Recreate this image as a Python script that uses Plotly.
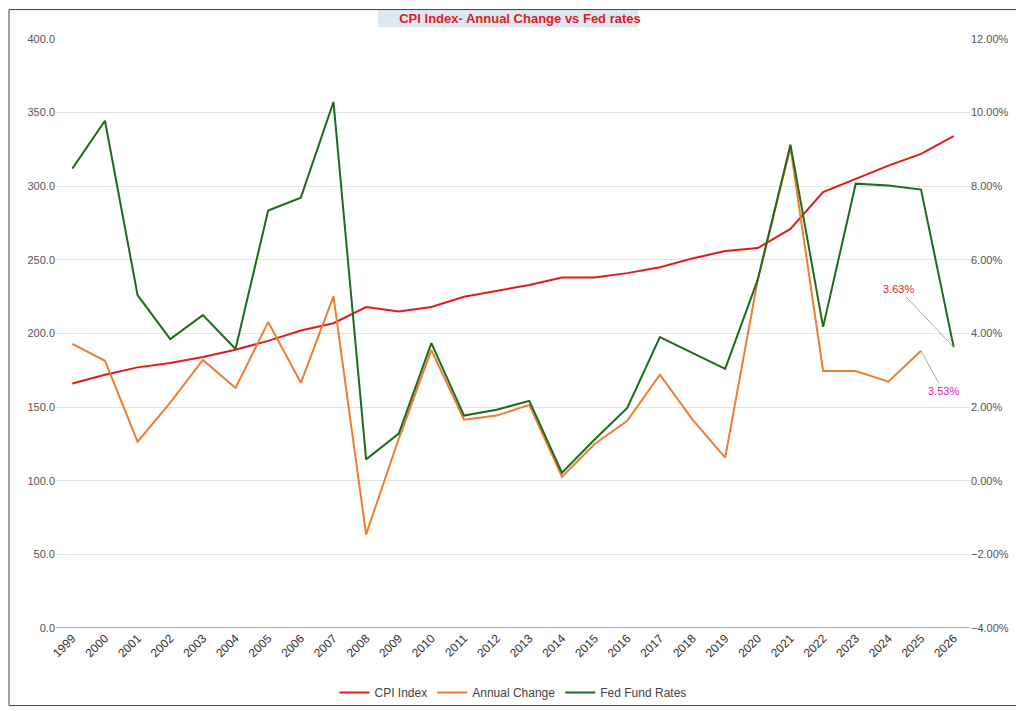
import plotly.graph_objects as go

years = list(range(1999, 2027))
cpi = [166, 172, 177, 180, 184, 189, 195, 202, 207, 218, 215, 218, 225, 229, 233, 238, 238, 241, 245, 251, 256, 258, 271, 296, 305, 314, 322, 334]
annual = [3.72, 3.26, 1.06, 2.12, 3.28, 2.52, 4.31, 2.66, 5.01, -1.46, 1.14, 3.55, 1.66, 1.77, 2.06, 0.11, 1.0, 1.63, 2.88, 1.66, 0.63, 5.47, 9.05, 2.98, 2.98, 2.69, 3.53]
fed = [8.48, 9.78, 5.04, 3.85, 4.5, 3.58, 7.34, 7.69, 10.29, 0.58, 1.28, 3.74, 1.77, 1.93, 2.17, 0.22, 1.12, 1.98, 3.9, 3.47, 3.04, 5.47, 9.13, 4.18, 8.07, 8.02, 7.91, 3.63]

fig = go.Figure()
fig.add_trace(go.Scatter(x=years, y=cpi, name="CPI Index", mode="lines",
                         line=dict(color="#e31a1c", width=2)))
fig.add_trace(go.Scatter(x=years[:len(annual)], y=[a / 100 for a in annual], name="Annual Change",
                         mode="lines", line=dict(color="#ed7d31", width=2), yaxis="y2"))
fig.add_trace(go.Scatter(x=years, y=[f / 100 for f in fed], name="Fed Fund Rates", mode="lines",
                         line=dict(color="#1e6b1e", width=2), yaxis="y2"))

fig.add_annotation(x=years[-1], y=fed[-1] / 100, yref="y2", text="3.63%", showarrow=True,
                   arrowhead=0, arrowcolor="#aaaaaa", arrowwidth=1, ax=-55, ay=-58,
                   font=dict(color="#e31a1c", size=11))
fig.add_annotation(x=years[len(annual) - 1], y=annual[-1] / 100, yref="y2", text="3.53%",
                   showarrow=True, arrowhead=0, arrowcolor="#aaaaaa", arrowwidth=1, ax=22, ay=40,
                   font=dict(color="#e020c0", size=11))

W, H, L, R, T, B = 1024, 711, 48, 62, 31, 80
pw, ph = W - L - R, H - T - B
fig.update_layout(
    width=W, height=H,
    paper_bgcolor="white", plot_bgcolor="white",
    margin=dict(l=L, r=R, t=T, b=B),
    title=dict(text="<b>CPI Index- Annual Change vs Fed rates</b>", x=0.5, y=1 - 10 / H, xanchor="center",
               yanchor="middle", font=dict(color="#e31a1c", size=13, family="Liberation Sans")),
    font=dict(family="Liberation Sans", color="#555555", size=11),
    xaxis=dict(range=[1998.5, 2026.5], tickmode="linear", dtick=1, tickangle=-45, showgrid=False,
               tickfont=dict(size=12, color="#333333"), showline=False, ticks="", zeroline=False),
    yaxis=dict(range=[0, 400], dtick=50, tickformat=".1f", showgrid=True, gridcolor="#e3e3e3",
               zeroline=False),
    yaxis2=dict(range=[-0.04, 0.12], dtick=0.02, tickformat=".2%", overlaying="y", side="right",
                showgrid=False, zeroline=False),
    legend=dict(orientation="h", x=0.5, xanchor="center", y=-0.085, yanchor="top",
                bgcolor="rgba(0,0,0,0)", font=dict(size=12, color="#444444")),
    shapes=[dict(type="rect", xref="paper", yref="paper", x0=-(L - 1) / pw, x1=1 + (R - 1) / pw,
                 y0=-(B - 1) / ph, y1=1 + (T - 1) / ph, line=dict(color="#444444", width=1)),
            dict(type="rect", xref="paper", yref="paper", x0=(370 - L) / pw, x1=(630 - L) / pw,
                 y0=1 + (T - 19) / ph, y1=1 + (T - 1) / ph,
                 fillcolor="#dce9f5", line=dict(width=0), layer="below"),
            dict(type="line", xref="paper", yref="y", x0=0, x1=1, y0=0, y1=0,
                 line=dict(color="#e31a1c", width=1))],
)
fig.write_html("out.html")
